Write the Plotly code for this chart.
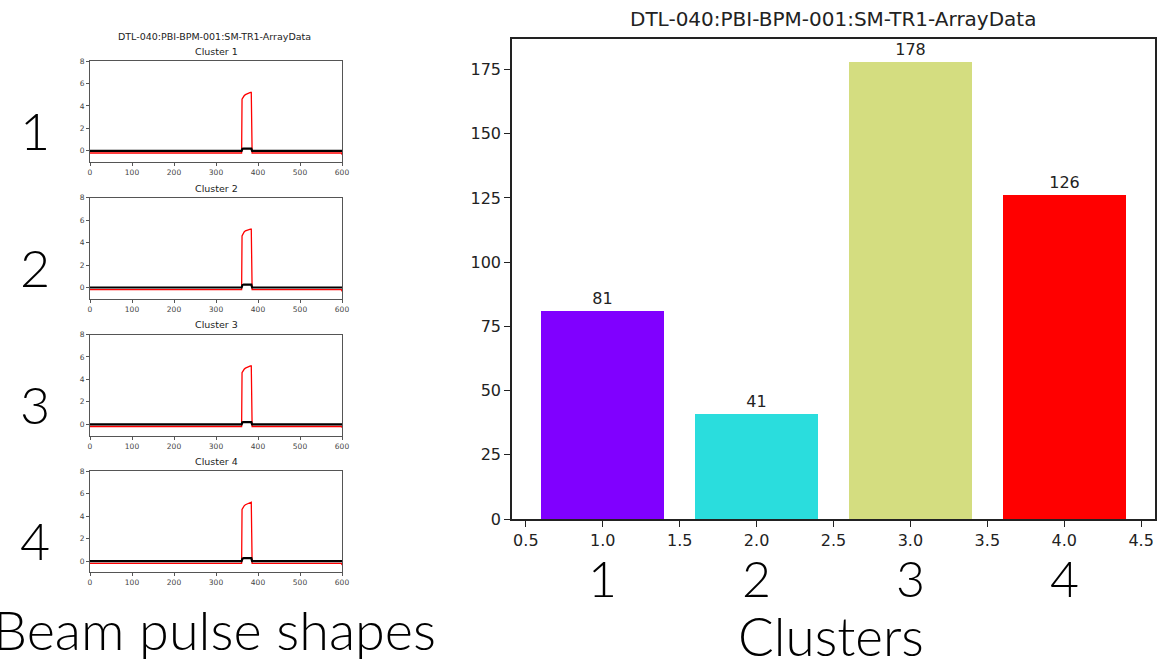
import plotly.graph_objects as go

W, H = 1173, 661

# ---------------- data ----------------
clusters = [1, 2, 3, 4]
counts = [81, 41, 178, 126]
bar_colors = ["#8000ff", "#2adddd", "#d4dd80", "#ff0000"]

pulse_x = [0, 361, 362, 364, 367, 370, 374, 378, 382, 384, 385, 386, 599, 600]
red_c1 = [-0.2, -0.2, 4.6, 4.75, 4.9, 5.0, 5.08, 5.15, 5.2, 5.2, 2.5, -0.2, -0.2, -0.35]
red_c2 = [-0.2, -0.2, 4.6, 4.8, 4.95, 5.05, 5.12, 5.18, 5.2, 5.2, 2.5, -0.2, -0.2, -0.35]
red_c3 = [-0.2, -0.2, 4.6, 4.75, 4.9, 5.0, 5.08, 5.15, 5.2, 5.2, 2.5, -0.2, -0.2, -0.3]
red_c4 = [-0.2, -0.2, 4.6, 4.78, 4.92, 5.02, 5.1, 5.17, 5.22, 5.24, 2.5, -0.2, -0.2, -0.35]
black_x = [0, 361, 363, 366, 384, 386, 600]
black_c1 = [0, 0, 0.18, 0.2, 0.2, 0, 0]
black_c2 = [0, 0, 0.22, 0.26, 0.26, 0, 0]
black_c3 = [0, 0, 0.18, 0.2, 0.2, 0, 0]
black_c4 = [0, 0, 0.22, 0.26, 0.26, 0, 0]
red_series = [red_c1, red_c2, red_c3, red_c4]
black_series = [black_c1, black_c2, black_c3, black_c4]

title_text = "DTL-040:PBI-BPM-001:SM-TR1-ArrayData"
small_x_ticks = [0, 100, 200, 300, 400, 500, 600]
small_y_ticks = [0, 2, 4, 6, 8]
big_x_ticks = [0.5, 1.0, 1.5, 2.0, 2.5, 3.0, 3.5, 4.0, 4.5]
big_y_ticks = [0, 25, 50, 75, 100, 125, 150, 175]


def px_x(p):
    return p / W


def px_y(p):
    return 1 - p / H


fig = go.Figure()
layout = {}

small_tops = [61, 197.7, 334.5, 471.3]
small_h = 101
for i in range(4):
    n = i + 1
    xa = "x" if n == 1 else f"x{n}"
    ya = "y" if n == 1 else f"y{n}"
    fig.add_trace(go.Scatter(x=pulse_x, y=red_series[i], mode="lines",
                             line=dict(color="#ff0000", width=1.3),
                             xaxis=xa, yaxis=ya, showlegend=False, hoverinfo="skip"))
    fig.add_trace(go.Scatter(x=black_x, y=black_series[i], mode="lines",
                             line=dict(color="#000000", width=2.2),
                             xaxis=xa, yaxis=ya, showlegend=False, hoverinfo="skip"))
    t = small_tops[i]
    layout["xaxis" if n == 1 else f"xaxis{n}"] = dict(
        domain=[px_x(90), px_x(342)], range=[0, 600], anchor=ya, automargin=False,
        tickvals=small_x_ticks, ticks="outside", ticklen=3, tickcolor="#555",
        showline=True, mirror=True, linecolor="#555", linewidth=1,
        showgrid=False, zeroline=False, tickfont=dict(family="DejaVu Sans", size=7.5, color="#444"))
    layout["yaxis" if n == 1 else f"yaxis{n}"] = dict(
        domain=[px_y(t + small_h), px_y(t)], range=[-1, 8], anchor=xa, automargin=False,
        tickvals=small_y_ticks, ticks="outside", ticklen=3, tickcolor="#555",
        showline=True, mirror=True, linecolor="#555", linewidth=1,
        showgrid=False, zeroline=False, tickfont=dict(family="DejaVu Sans", size=7.5, color="#444"))

# bar chart
fig.add_trace(go.Bar(x=clusters, y=counts, width=0.8, marker=dict(color=bar_colors, line=dict(width=0)),
                     text=[str(c) for c in counts], textposition="outside",
                     textfont=dict(family="DejaVu Sans", size=16, color="#222"),
                     cliponaxis=False, xaxis="x5", yaxis="y5", showlegend=False))
layout["xaxis5"] = dict(domain=[px_x(512), px_x(1155)], range=[0.41, 4.59], anchor="y5", automargin=False,
                        tickvals=big_x_ticks, ticktext=[f"{v:.1f}" for v in big_x_ticks],
                        ticks="outside", ticklen=6, tickcolor="#222", tickwidth=1.3,
                        showline=True, mirror=True, linecolor="#222", linewidth=1.5,
                        showgrid=False, zeroline=False,
                        tickfont=dict(family="DejaVu Sans", size=16, color="#222"))
layout["yaxis5"] = dict(domain=[px_y(519), px_y(39)], range=[0, 186.9], anchor="x5", automargin=False,
                        tickvals=big_y_ticks, ticks="outside", ticklen=6, tickcolor="#222", tickwidth=1.3,
                        showline=True, mirror=True, linecolor="#222", linewidth=1.5,
                        showgrid=False, zeroline=False,
                        tickfont=dict(family="DejaVu Sans", size=16, color="#222"))

annotations = []
# small plots titles
annotations.append(dict(text=title_text, x=px_x(214), y=px_y(36.5), xref="paper", yref="paper",
                        showarrow=False, font=dict(family="DejaVu Sans", size=9.5, color="#222"),
                        xanchor="center", yanchor="middle"))
for i in range(4):
    annotations.append(dict(text=f"Cluster {i + 1}", x=px_x(216), y=px_y(small_tops[i] - 9.5),
                            xref="paper", yref="paper", showarrow=False,
                            font=dict(family="DejaVu Sans", size=9.5, color="#222"),
                            xanchor="center", yanchor="middle"))
    annotations.append(dict(text=str(clusters[i]), x=px_x(35), y=px_y(small_tops[i] + 69),
                            xref="paper", yref="paper", showarrow=False,
                            font=dict(family="Lato", size=52, color="#000", weight=300),
                            xanchor="center", yanchor="middle"))
    # big labels under bars
    annotations.append(dict(text=str(clusters[i]), x=clusters[i], y=px_y(578),
                            xref="x5", yref="paper", showarrow=False,
                            font=dict(family="Lato", size=50, color="#000", weight=300),
                            xanchor="center", yanchor="middle"))

annotations.append(dict(text=title_text, x=px_x(833), y=px_y(19), xref="paper", yref="paper",
                        showarrow=False, font=dict(family="DejaVu Sans", size=20, color="#222"),
                        xanchor="center", yanchor="middle"))
annotations.append(dict(text="Beam pulse shapes", x=px_x(214), y=px_y(629), xref="paper", yref="paper",
                        showarrow=False, font=dict(family="Lato", size=54, color="#000", weight=300),
                        xanchor="center", yanchor="middle"))
annotations.append(dict(text="Clusters", x=px_x(831), y=px_y(635), xref="paper", yref="paper",
                        showarrow=False, font=dict(family="Lato", size=53, color="#000", weight=300),
                        xanchor="center", yanchor="middle"))

fig.update_layout(**layout)
fig.update_layout(annotations=annotations, width=W, height=H,
                  margin=dict(l=0, r=0, t=0, b=0),
                  paper_bgcolor="white", plot_bgcolor="white", bargap=0)

fig.write_html("out.html", config={"displayModeBar": False},
               post_script="document.body.style.margin='0';document.body.style.overflow='hidden';")
